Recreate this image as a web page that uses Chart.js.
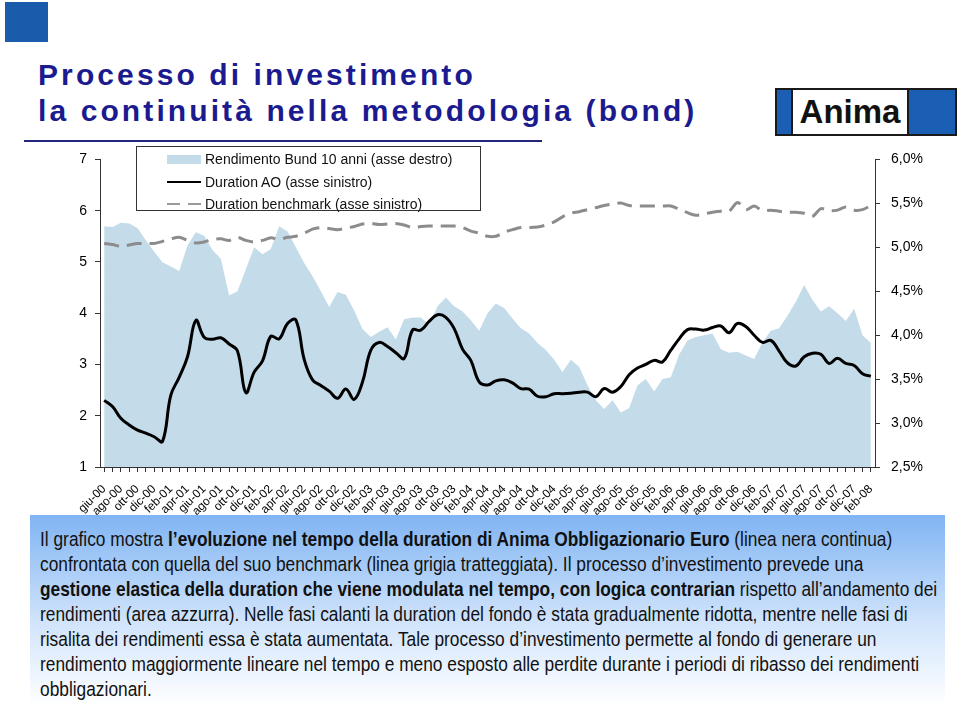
<!DOCTYPE html>
<html>
<head>
<meta charset="utf-8">
<script src="https://cdn.jsdelivr.net/npm/chart.js@4.4.0/dist/chart.umd.min.js"></script>
<style>
  body { margin: 0; width: 960px; height: 708px; background: #fff; overflow: hidden; position: relative; font-family: "Liberation Sans", Arial, sans-serif; }
  #square { position: absolute; left: 5px; top: 2px; width: 43px; height: 40px; background: #1b5bab; }
  .title { position: absolute; left: 38px; font-family: "Liberation Sans", Arial, sans-serif; font-weight: bold; font-size: 30px; letter-spacing: 3.1px; color: #1b1b8f; white-space: nowrap; }
  #hr { position: absolute; left: 24px; top: 140px; width: 518px; height: 2px; background: #23237a; }
  #logo { position: absolute; left: 775px; top: 88px; width: 178px; height: 44px; border: 2px solid #1a1a1a; background: #1a5fb4; }
  #logo .inner { position: absolute; left: 14px; top: -2px; width: 114px; height: 44px; background: #fff; border: 2px solid #1a1a1a; text-align: center; font: bold 33px "Liberation Sans", Arial, sans-serif; line-height: 44px; color: #111; }
  #wrap { position: absolute; left: 0; top: 140px; width: 960px; height: 380px; }
  #legend { position: absolute; left: 136px; top: 146px; width: 343px; height: 63px; border: 1px solid #333; background: #fff; font-size: 14px; color: #111; }
  #legend .row { position: absolute; left: 68px; height: 16px; line-height: 16px; white-space: nowrap; }
  #legend .sw { position: absolute; left: 30px; width: 34px; }
  #textbox { position: absolute; left: 30px; top: 515px; width: 915px; height: 190px; background: linear-gradient(to bottom, #80b4f3 0%, #cfe3fb 55%, #ffffff 100%); }
  #textbox .ln { position: absolute; left: 10px; height: 25px; line-height: 25px; white-space: nowrap; font-family: "Liberation Sans", Arial, sans-serif; font-size: 20.5px; color: #111; transform: scaleX(0.845); transform-origin: 0 0; }
</style>
</head>
<body>
<div id="square"></div>
<div class="title" style="top:58px;">Processo di investimento</div>
<div class="title" style="top:94px;">la continuità nella metodologia (bond)</div>
<div id="logo"><div class="inner">Anima</div></div>
<div id="hr"></div>

<div id="wrap"><canvas id="chart" width="960" height="380"></canvas></div>

<div id="legend">
  <div class="sw" style="top:8px;height:9px;background:#c4dbe9;"></div>
  <div class="row" style="top:4px;">Rendimento Bund 10 anni (asse destro)</div>
  <div class="sw" style="top:34px;height:2px;background:#000;"></div>
  <div class="row" style="top:27px;">Duration AO (asse sinistro)</div>
  <div class="sw" style="top:56px;height:2px;width:13px;background:#999;"></div>
  <div class="sw" style="top:56px;height:2px;width:13px;left:51px;background:#999;"></div>
  <div class="row" style="top:49px;">Duration benchmark (asse sinistro)</div>
</div>

<div id="textbox">
  <div class="ln" style="top:11px;">Il grafico mostra <b>l’evoluzione nel tempo della duration di Anima Obbligazionario Euro</b> (linea nera continua)</div>
  <div class="ln" style="top:36px;">confrontata con quella del suo benchmark (linea grigia tratteggiata). Il processo d’investimento prevede una</div>
  <div class="ln" style="top:61px;"><b>gestione elastica della duration che viene modulata nel tempo, con logica contrarian</b> rispetto all’andamento dei</div>
  <div class="ln" style="top:86px;">rendimenti (area azzurra). Nelle fasi calanti la duration del fondo è stata gradualmente ridotta, mentre nelle fasi di</div>
  <div class="ln" style="top:111px;">risalita dei rendimenti essa è stata aumentata. Tale processo d’investimento permette al fondo di generare un</div>
  <div class="ln" style="top:136px;">rendimento maggiormente lineare nel tempo e meno esposto alle perdite durante i periodi di ribasso dei rendimenti</div>
  <div class="ln" style="top:161px;">obbligazionari.</div>
</div>

<script>
// mesi da giu-00 a feb-08
var months = [
  'giu-00','lug-00','ago-00','set-00','ott-00','nov-00','dic-00',
  'gen-01','feb-01','mar-01','apr-01','mag-01','giu-01','lug-01','ago-01','set-01','ott-01','nov-01','dic-01',
  'gen-02','feb-02','mar-02','apr-02','mag-02','giu-02','lug-02','ago-02','set-02','ott-02','nov-02','dic-02',
  'gen-03','feb-03','mar-03','apr-03','mag-03','giu-03','lug-03','ago-03','set-03','ott-03','nov-03','dic-03',
  'gen-04','feb-04','mar-04','apr-04','mag-04','giu-04','lug-04','ago-04','set-04','ott-04','nov-04','dic-04',
  'gen-05','feb-05','mar-05','apr-05','mag-05','giu-05','lug-05','ago-05','set-05','ott-05','nov-05','dic-05',
  'gen-06','feb-06','mar-06','apr-06','mag-06','giu-06','lug-06','ago-06','set-06','ott-06','nov-06','dic-06',
  'gen-07','feb-07','mar-07','apr-07','mag-07','giu-07','lug-07','ago-07','set-07','ott-07','nov-07','dic-07',
  'gen-08','feb-08'
];

// Duration AO (asse sinistro)
var durationAO = [
  2.30, 2.18, 1.95, 1.82, 1.72, 1.66, 1.59, 1.50, 2.40, 2.75,
  3.15, 3.86, 3.53, 3.49, 3.52, 3.40, 3.26, 2.45, 2.85, 3.07,
  3.55, 3.50, 3.80, 3.87, 3.10, 2.70, 2.59, 2.48, 2.34, 2.52,
  2.32, 2.66, 3.28, 3.43, 3.35, 3.23, 3.12, 3.67, 3.67, 3.84,
  3.97, 3.92, 3.70, 3.30, 3.08, 2.66, 2.60, 2.68, 2.70, 2.64,
  2.53, 2.52, 2.38, 2.37, 2.43, 2.43, 2.44, 2.46, 2.46, 2.37,
  2.53, 2.46, 2.57, 2.80, 2.93, 3.00, 3.08, 3.05, 3.28, 3.50,
  3.68, 3.69, 3.67, 3.72, 3.75, 3.62, 3.80, 3.74, 3.57, 3.43,
  3.47, 3.26, 3.03, 2.97, 3.15, 3.22, 3.20, 3.02, 3.12, 3.02,
  2.98, 2.82, 2.77
];

// Duration benchmark (asse sinistro)
var durationBench = [
  5.36, 5.34, 5.30, 5.33, 5.36, 5.36, 5.36, 5.40, 5.45, 5.48,
  5.42, 5.37, 5.39, 5.44, 5.45, 5.42, 5.48, 5.42, 5.39, 5.42,
  5.47, 5.44, 5.48, 5.50, 5.56, 5.64, 5.67, 5.65, 5.63, 5.66,
  5.69, 5.74, 5.75, 5.73, 5.74, 5.75, 5.72, 5.67, 5.69, 5.70,
  5.70, 5.70, 5.70, 5.67, 5.60, 5.56, 5.50, 5.50, 5.58, 5.63,
  5.67, 5.67, 5.68, 5.72, 5.78, 5.88, 5.95, 5.98, 6.02, 6.06,
  6.10, 6.13, 6.15, 6.10, 6.09, 6.09, 6.09, 6.09, 6.09, 6.03,
  5.96, 5.91, 5.94, 5.97, 5.99, 5.99, 6.16, 6.02, 6.09, 6.00,
  6.01, 5.99, 5.97, 5.97, 5.95, 5.89, 6.04, 6.00, 6.01, 6.07,
  6.01, 6.02, 6.10
];

// Rendimento Bund 10 anni % (asse destro)
var bund10y = [
  5.24, 5.23, 5.28, 5.27, 5.22, 5.08, 4.95, 4.83, 4.78, 4.73,
  5.02, 5.17, 5.13, 4.97, 4.87, 4.45, 4.50, 4.75, 5.00, 4.92,
  4.98, 5.24, 5.18, 5.00, 4.82, 4.67, 4.50, 4.32, 4.49, 4.46,
  4.28, 4.07, 3.98, 4.04, 4.09, 3.95, 4.18, 4.20, 4.20, 4.12,
  4.33, 4.43, 4.33, 4.27, 4.17, 4.05, 4.25, 4.36, 4.31, 4.19,
  4.08, 4.02, 3.91, 3.83, 3.72, 3.58, 3.72, 3.64, 3.43, 3.26,
  3.16, 3.26, 3.12, 3.17, 3.43, 3.50, 3.36, 3.50, 3.52, 3.78,
  3.94, 3.98, 4.00, 4.02, 3.84, 3.80, 3.81, 3.77, 3.73, 3.92,
  4.05, 4.08, 4.22, 4.38, 4.57, 4.40, 4.27, 4.33, 4.25, 4.16,
  4.30, 4.00, 3.91
];

var leftTicks = [1, 2, 3, 4, 5, 6, 7];
var rightTicks = [2.5, 3.0, 3.5, 4.0, 4.5, 5.0, 5.5, 6.0];

var ctx = document.getElementById('chart').getContext('2d');

new Chart(ctx, {
  type: 'line',
  data: {
    labels: months,
    datasets: [
      {
        label: 'Rendimento Bund 10 anni (asse destro)',
        data: bund10y,
        yAxisID: 'yR',
        borderWidth: 0,
        borderColor: 'rgba(0,0,0,0)',
        backgroundColor: '#c4dbe9',
        fill: 'start',
        pointRadius: 0,
        tension: 0,
        order: 3
      },
      {
        label: 'Duration AO (asse sinistro)',
        data: durationAO,
        yAxisID: 'yL',
        borderColor: '#000',
        borderWidth: 3,
        fill: false,
        pointRadius: 0,
        tension: 0.4,
        order: 1
      },
      {
        label: 'Duration benchmark (asse sinistro)',
        data: durationBench,
        yAxisID: 'yL',
        borderColor: '#8c8c8c',
        borderWidth: 3,
        borderDash: [15, 8],
        fill: false,
        pointRadius: 0,
        tension: 0.3,
        order: 2
      }
    ]
  },
  options: {
    responsive: false,
    animation: false,
    layout: { padding: { top: 19, left: 0, right: 0, bottom: 0 } },
    plugins: {
      legend: { display: false },
      tooltip: { enabled: false }
    },
    scales: {
      x: {
        type: 'category',
        offset: true,
        grid: { display: true, drawOnChartArea: false, drawTicks: true, tickLength: 5, color: '#333' },
        border: { display: true, color: '#333', width: 1 },
        ticks: {
          autoSkip: false,
          maxRotation: 45,
          minRotation: 45,
          padding: 10,
          color: '#000',
          font: { family: 'Liberation Sans, Arial', size: 12 },
          callback: function(v, i) { return i % 2 === 0 ? months[i] : ''; }
        },
        afterFit: function(s) { s.height = 53; }
      },
      yL: {
        position: 'left',
        min: 1,
        max: 7,
        afterBuildTicks: function(s) { s.ticks = leftTicks.map(function(v) { return { value: v }; }); },
        grid: { display: true, drawOnChartArea: false, drawTicks: true, tickLength: 5, color: '#333' },
        border: { display: true, color: '#333', width: 1 },
        ticks: { color: '#000', padding: 8, font: { family: 'Liberation Sans, Arial', size: 14 } },
        afterFit: function(s) { s.width = 100; }
      },
      yR: {
        position: 'right',
        min: 2.5,
        max: 6.0,
        afterBuildTicks: function(s) { s.ticks = rightTicks.map(function(v) { return { value: v }; }); },
        grid: { display: true, drawOnChartArea: false, drawTicks: true, tickLength: 5, color: '#333' },
        border: { display: true, color: '#333', width: 1 },
        ticks: {
          color: '#000',
          padding: 11,
          font: { family: 'Liberation Sans, Arial', size: 14 },
          callback: function(v) { return v.toFixed(1).replace('.', ',') + '%'; }
        },
        afterFit: function(s) { s.width = 85; }
      }
    }
  }
});
</script>
</body>
</html>
